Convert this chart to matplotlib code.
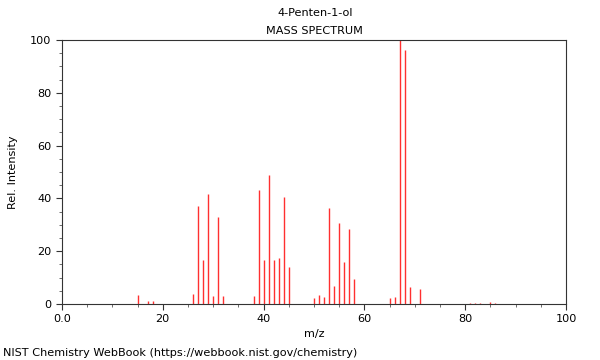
import matplotlib
matplotlib.use('Agg')
import matplotlib.pyplot as plt
from matplotlib.ticker import MultipleLocator

# m/z and relative intensity
mz = [15, 17, 18, 26, 27, 28, 29, 30, 31, 32,
      38, 39, 40, 41, 42, 43, 44, 45,
      50, 51, 52, 53, 54, 55, 56, 57, 58,
      65, 66, 67, 68, 69, 71,
      81, 82, 83, 85, 86]
intensity = [3.4, 1.0, 1.0, 3.8, 37.1, 16.5, 41.5, 3.0, 33.0, 3.0,
             3.1, 43.2, 16.7, 48.7, 16.7, 17.4, 40.4, 14.0,
             2.1, 3.5, 2.5, 36.4, 6.8, 30.8, 16.0, 28.5, 9.5,
             2.4, 2.8, 100.0, 96.1, 6.4, 5.8,
             0.5, 0.5, 0.5, 0.8, 0.5]

title = "4-Penten-1-ol"
subtitle = "MASS SPECTRUM"
credit = "NIST Chemistry WebBook (https://webbook.nist.gov/chemistry)"

plt.rcParams['font.family'] = 'DejaVu Sans'
plt.rcParams['font.size'] = 8.15

fig = plt.figure(figsize=(6, 3.6), dpi=100)
ax = fig.add_axes([0.1033, 0.1556, 0.84, 0.7333])

ax.vlines(mz, 0, intensity, color='#ff3030', linewidth=1)

ax.set_xlim(0, 100)
ax.set_ylim(0, 100)
ax.xaxis.set_major_locator(MultipleLocator(20))
ax.xaxis.set_minor_locator(MultipleLocator(5))
ax.yaxis.set_major_locator(MultipleLocator(20))
ax.yaxis.set_minor_locator(MultipleLocator(5))
ax.set_xticks([0, 20, 40, 60, 80, 100])
ax.set_xticklabels(['0.0', '20', '40', '60', '80', '100'])
ax.tick_params(which='major', length=4, width=0.8, color='#333333')
ax.tick_params(which='minor', length=2, width=0.6, color='#555555')
for s in ax.spines.values():
    s.set_color('#333333')
    s.set_linewidth(0.8)

ax.set_xlabel('m/z', labelpad=3.5)
ax.set_ylabel('Rel. Intensity', labelpad=9)

fig.text(0.5245, 0.963, title, ha='center', va='center')
fig.text(0.5245, 0.915, subtitle, ha='center', va='center')
fig.text(0.005, 0.019, credit, ha='left', va='center')

fig.savefig('out.png', dpi=100)
